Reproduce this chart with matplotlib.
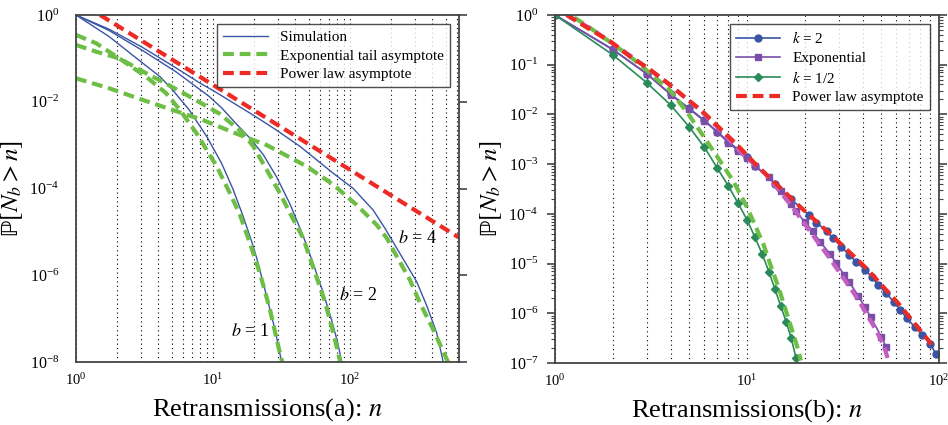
"""Probabilidad de retransmisiones: simulacion frente a asintotas (a) y (b)"""

import matplotlib
matplotlib.use("Agg")
import matplotlib.pyplot as plt
from matplotlib.ticker import LogLocator, NullLocator

# ---------------- Panel (a) ----------------
n_sim_b1 = [1, 1.75, 3.07, 4.1, 5.08, 6.71, 9.0, 11.56, 14.06, 16.63, 19.14, 20.84, 24.66, 28.38, 31.7]
p_sim_b1 = [1.0, 0.316, 0.0776, 0.038, 0.0186, 6.46e-3, 1.58e-3, 3.8e-4, 9.33e-5, 2.24e-5,
            6.03e-6, 2.51e-6, 3.24e-7, 5.5e-8, 1.0e-8]

n_sim_b2 = [1, 1.75, 3.07, 5.37, 9.4, 11.56, 14.7, 18.6, 23.3, 29.2, 36.5, 45.6, 53.7, 63.1, 72.6, 81.3, 87.1]
p_sim_b2 = [1.0, 0.436, 0.151, 0.049, 0.0132, 7.24e-3, 3.16e-3, 1.45e-3, 6.03e-4, 1.82e-4,
            4.37e-5, 7.94e-6, 1.9e-6, 4.37e-7, 1.05e-7, 2.82e-8, 1.0e-8]

n_sim_b4 = [1, 1.75, 3.07, 5.37, 8.04, 10, 14.0, 19.5, 28.0, 43.2, 75.5, 105.7, 147.9, 180.3,
            231.7, 306.9, 363.1, 429.5, 479.7]
p_sim_b4 = [1.0, 0.468, 0.178, 0.0603, 0.0269, 0.0182, 9.5e-3, 5.0e-3, 2.4e-3, 9.33e-4, 2.24e-4,
            1.0e-4, 3.16e-5, 1.2e-5, 3.16e-6, 7.08e-7, 2.0e-7, 4.68e-8, 1.0e-8]

n_exp_b1 = [1, 1.40, 2.07, 3.24, 4.54, 5.74, 7.60, 10.64, 13.3, 15.7, 18.1, 22.0, 26.1, 30.0, 32.0]
p_exp_b1 = [0.347, 0.224, 0.1, 0.038, 0.0158, 6.46e-3, 1.86e-3, 3.24e-4, 7.76e-5, 2.51e-5,
            7.08e-6, 1.12e-6, 1.58e-7, 2.29e-8, 1.0e-8]

n_exp_b2 = [1, 1.40, 2.07, 3.24, 4.30, 7.11, 11.1, 16.5, 19.7, 24.7, 30.8, 36.5, 45.6, 53.7, 66.1, 75.5, 85.1]
p_exp_b2 = [0.204, 0.143, 0.1, 0.0457, 0.0288, 0.012, 5.37e-3, 1.91e-3, 9.33e-4, 2.69e-4,
            7.76e-5, 2.69e-5, 7.08e-6, 1.58e-6, 2.29e-7, 4.68e-8, 1.0e-8]

n_exp_b4 = [1, 1.75, 3.07, 5.08, 8.41, 14.7, 19.5, 24.7, 48.3, 75.5, 111.9, 156.7, 186.2, 207.0,
            274.2, 324.3, 406.4, 462.4, 520.0]
p_exp_b4 = [0.0347, 0.0204, 0.011, 6.46e-3, 3.8e-3, 1.86e-3, 1.32e-3, 1.0e-3, 3.24e-4, 1.23e-4,
            4.17e-5, 1.45e-5, 7.08e-6, 3.8e-6, 7.76e-7, 2.29e-7, 5.5e-8, 2.24e-8, 1.0e-8]

n_pow_a = [1.5, 10, 100, 625]
p_pow_a = [1.0, 0.0245, 2.7e-4, 7.4e-6]

# ---------------- Panel (b) ----------------
n_k2 = [1, 2, 3, 4, 5, 6, 7, 8, 9, 10, 11, 14, 17, 21, 23, 26, 28, 31, 34, 37, 41, 45, 48, 53,
        58, 63, 68, 75, 82, 90, 96]
p_k2 = [1.0, 0.204, 0.0661, 0.0257, 0.0132, 7.59e-3, 4.47e-3, 2.82e-3, 1.95e-3, 1.38e-3, 9.3e-4,
        4.07e-4, 1.95e-4, 9.55e-5, 6.61e-5, 4.57e-5, 3.24e-5, 2.19e-5, 1.48e-5, 1.1e-5, 7.59e-6,
        5.25e-6, 3.72e-6, 2.57e-6, 1.7e-6, 1.15e-6, 7.94e-7, 5.25e-7, 3.63e-7, 2.45e-7, 1.55e-7]

n_expo = [1, 2, 3, 4, 5, 6, 7, 8, 9, 10, 11, 13, 15, 17, 18, 20, 22, 24, 27, 29, 32, 34, 38, 41, 44, 50, 53]
p_expo = [1.0, 0.20, 0.066, 0.025, 0.0129, 7.4e-3, 4.4e-3, 2.7e-3, 1.86e-3, 1.32e-3, 9.3e-4,
          5.4e-4, 2.95e-4, 1.58e-4, 1.12e-4, 6.9e-5, 4.5e-5, 2.75e-5, 1.58e-5, 1.05e-5, 6.0e-6,
          4.3e-6, 2.24e-6, 1.35e-6, 8.5e-7, 3.4e-7, 2.1e-7]

n_khalf = list(range(1, 19))
p_khalf = [1.0, 0.158, 0.0437, 0.0155, 5.62e-3, 2.19e-3, 8.32e-4, 3.63e-4, 1.62e-4, 7.59e-5,
           3.39e-5, 1.55e-5, 6.92e-6, 3.02e-6, 1.38e-6, 6.76e-7, 3.16e-7, 1.26e-7]

n_pow_b = [1.15, 1.56, 1.95, 2.48, 3.06, 3.82, 4.75, 5.81, 7.14, 8.91, 11.2, 12.7, 19.3, 28.7,
           42.0, 61.4, 87.9, 91.6]
p_pow_b = [1.0, 0.483, 0.291, 0.1426, 0.0851, 0.0442, 0.022, 0.0119, 5.5e-3, 2.42e-3, 9.55e-4,
           6.03e-4, 1.29e-4, 3.24e-5, 7.94e-6, 1.58e-6, 2.88e-7, 2.29e-7]

n_asym_expo = [1.15, 1.58, 2.51, 3.93, 5.69, 7.08, 9.38, 12.5, 16.9, 23.2, 26.8, 36.1, 40.6, 47.0, 51.8, 55.0]
p_asym_expo = [1.0, 0.50, 0.1445, 0.0407, 0.0123, 5.37e-3, 1.66e-3, 6.31e-4, 1.51e-4, 2.82e-5,
               1.32e-5, 2.51e-6, 1.2e-6, 4.57e-7, 2.14e-7, 1.0e-7]

n_asym_khalf = [1.26, 1.55, 2.40, 3.02, 3.98, 4.90, 5.89, 7.08, 8.51, 9.95, 11.0, 12.2, 13.4, 14.6,
                15.8, 17.1, 18.5, 19.05]
p_asym_khalf = [0.891, 0.525, 0.158, 0.0759, 0.0302, 0.0107, 3.8e-3, 1.32e-3, 4.47e-4, 1.41e-4,
                6.0e-5, 2.4e-5, 8.3e-6, 3.3e-6, 1.26e-6, 4.8e-7, 1.82e-7, 1.12e-7]

# colores
AZUL = "#3a55a6"
VERDE_CLARO = "#6dbe45"
ROJO = "#ee2a24"
MORADO = "#7b4fa8"
MAGENTA = "#c35fc0"
VERDE = "#2a8a5a"
GUION = (2.6, 1.4)

plt.rcParams["font.family"] = ["Liberation Serif", "DejaVu Serif"]
plt.rcParams["mathtext.fontset"] = "stix"

ETIQUETA_Y = r"$\mathrm{ℙ}[N_b > n]$"


def estilo_ejes(ax):
    """Marco, rejilla vertical punteada y ticks"""
    for sp in ax.spines.values():
        sp.set_color("#444444")
        sp.set_linewidth(1.3)
    ax.set_xscale("log")
    ax.set_yscale("log")
    ax.xaxis.set_minor_locator(LogLocator(base=10, subs=range(2, 10), numticks=20))
    ax.grid(True, which="both", axis="x", color="k", linewidth=0.8, linestyle=(0, (1, 3)))
    ax.grid(False, which="both", axis="y")
    ax.tick_params(axis="x", which="both", length=0, pad=7, labelsize=10.5)


def leyenda(ax):
    """Leyenda con marco negro y esquinas rectas"""
    leg = ax.legend(loc="upper right", fontsize=11, frameon=True, fancybox=False,
                    handlelength=2.9, borderaxespad=0.6, labelspacing=0.32,
                    borderpad=0.4, handletextpad=0.8)
    leg.get_frame().set_edgecolor("#222222")
    leg.get_frame().set_linewidth(1.0)
    return leg


fig = plt.figure(figsize=(9.48, 4.25), dpi=100)

# Panel (a)
ax1 = fig.add_axes([76 / 948, 1 - 362 / 425, 383 / 948, 347 / 425])
estilo_ejes(ax1)
ax1.plot(n_sim_b1, p_sim_b1, color=AZUL, lw=1.0, label="Simulation")
ax1.plot(n_sim_b2, p_sim_b2, color=AZUL, lw=1.0)
ax1.plot(n_sim_b4, p_sim_b4, color=AZUL, lw=1.0)
ax1.plot(n_exp_b1, p_exp_b1, color=VERDE_CLARO, lw=3, dashes=GUION, label="Exponential tail asymptote")
ax1.plot(n_exp_b2, p_exp_b2, color=VERDE_CLARO, lw=3, dashes=GUION)
ax1.plot(n_exp_b4, p_exp_b4, color=VERDE_CLARO, lw=3, dashes=GUION)
ax1.plot(n_pow_a, p_pow_a, color=ROJO, lw=3, dashes=GUION, label="Power law asymptote")
ax1.set_xlim(1, 625)
ax1.set_ylim(1e-8, 1)
ax1.set_yticks([1, 1e-2, 1e-4, 1e-6, 1e-8])
ax1.yaxis.set_minor_locator(NullLocator())
ax1.tick_params(axis="y", which="major", left=False, right=True, direction="out",
                length=6, width=1.2, color="#444444", pad=6, labelsize=11.5)
ax1.text(18.6, 5.0e-8, "$b$ = 1", fontsize=13, ha="center", va="center")
ax1.text(114, 3.5e-7, "$b$ = 2", fontsize=13, ha="center", va="center")
ax1.text(313, 7.2e-6, "$b$ = 4", fontsize=13, ha="center", va="center")
ax1.set_xlabel("Retransmissions(a): $n$", fontsize=19, labelpad=6)
ax1.set_ylabel(ETIQUETA_Y, fontsize=18, labelpad=3)
leyenda(ax1)

# Panel (b)
ax2 = fig.add_axes([555 / 948, 1 - 363 / 425, 384 / 948, 348 / 425])
estilo_ejes(ax2)
ax2.plot(n_k2, p_k2, color=AZUL, lw=1.2, marker="o", ms=5, label="$k$ = 2")
ax2.plot(n_expo, p_expo, color=MORADO, lw=1.2, marker="s", ms=4.5, label="Exponential")
ax2.plot(n_khalf, p_khalf, color=VERDE, lw=1.2, marker="D", ms=4.5, label="$k$ = 1/2")
ax2.plot(n_asym_khalf, p_asym_khalf, color=VERDE_CLARO, lw=3, dashes=GUION)
ax2.plot(n_asym_expo, p_asym_expo, color=MAGENTA, lw=3, dashes=GUION)
ax2.plot(n_pow_b, p_pow_b, color=ROJO, lw=3, dashes=GUION, label="Power law asymptote")
ax2.set_xlim(1, 100)
ax2.set_ylim(1e-7, 1)
ax2.yaxis.set_major_locator(LogLocator(base=10, numticks=10))
ax2.yaxis.set_minor_locator(LogLocator(base=10, subs=range(2, 10), numticks=20))
ax2.tick_params(axis="y", which="both", left=True, right=True, direction="out",
                color="#444444", pad=6, labelsize=11.5)
ax2.tick_params(axis="y", which="major", length=6, width=1.2)
ax2.tick_params(axis="y", which="minor", length=3, width=0.8)
ax2.set_xlabel("Retransmissions(b): $n$", fontsize=19, labelpad=6)
ax2.set_ylabel(ETIQUETA_Y, fontsize=18, labelpad=3)
leyenda(ax2)

fig.savefig("out.png", dpi=100)
